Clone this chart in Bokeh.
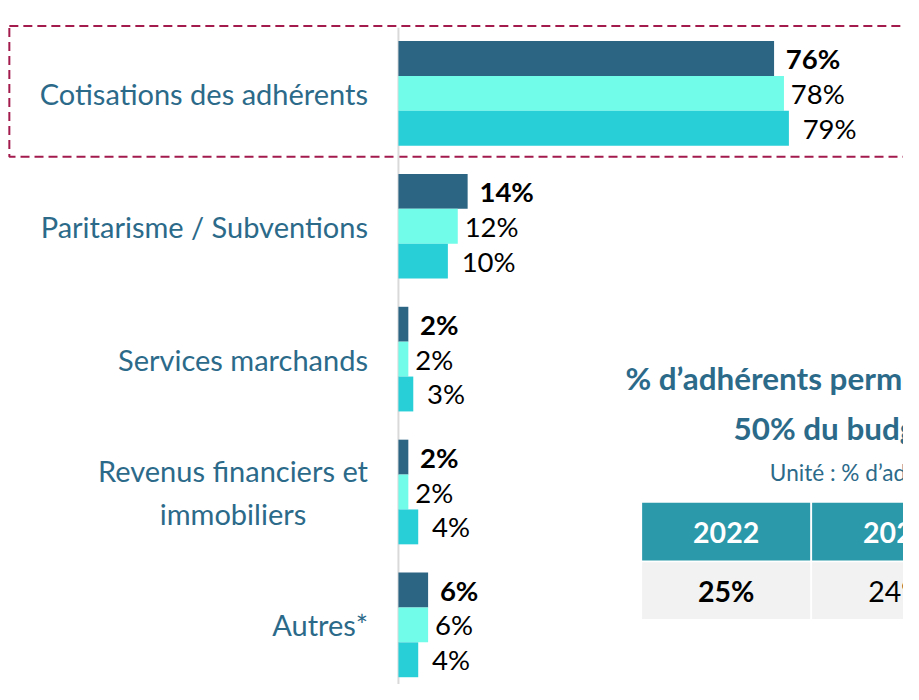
from bokeh.plotting import figure
from bokeh.models import Range1d, ColumnDataSource
from bokeh.core.properties import value
from bokeh.embed import file_html
from bokeh.resources import INLINE

# ---------------- data ----------------
categories = [
    "Cotisations des adhérents",
    "Paritarisme / Subventions",
    "Services marchands",
    "Revenus financiers et\nimmobiliers",
    "Autres*",
]
series_dark = [76, 14, 2, 2, 6]
series_aqua = [78, 12, 2, 2, 6]
series_cyan = [79, 10, 3, 4, 4]

title_lines = ["% d’adhérents permettant de couvrir", "50% du budget"]
subtitle = "Unité : % d’adhérents"
table_years = ["2022", "2023"]
table_values = ["25%", "24%"]

# ---------------- layout / style ----------------
REF_W, REF_H = 919, 700      # design space (reference pixels)
W, H = 903, 684              # actual figure size
S = W / REF_W                # screen-unit scale for fonts / offsets
ZERO_PX = 405.0
K = 5.03                     # design px per percent
CAT0 = 95.0
STEP = 136.0
BAR = 35.7
FONT = "Lato"
C_DARK = "#2c6484"
C_AQUA = "#70fce9"
C_CYAN = "#29cfd7"
C_TEXT = "#2c6a8a"


def sx(px):
    return (px - ZERO_PX) / K


def sy(py):
    return -py


def fs(px):
    return f"{px * S:.1f}px"


p = figure(width=W, height=H, output_backend="svg", toolbar_location=None,
           x_range=Range1d(sx(0), sx(REF_W)),
           y_range=Range1d(sy(REF_H), sy(0)),
           min_border=0, outline_line_color=None)
p.axis.visible = False
p.grid.visible = False
p.background_fill_color = "white"
p.border_fill_color = "white"

# dashed highlight box around first category
p.quad(left=[sx(9)], right=[sx(950)], top=[sy(26)], bottom=[sy(160)],
       fill_color=None, line_color="#a31a4c", line_width=2, line_dash="9 5")

# vertical axis line
p.segment(x0=[0], y0=[sy(28)], x1=[0], y1=[sy(705)], line_color="#d9d9d9", line_width=2)

centers = [sy(CAT0 + STEP * i) for i in range(len(categories))]

series = [(series_dark, C_DARK, "bold", 12, BAR),
          (series_aqua, C_AQUA, "normal", 7, 0.0),
          (series_cyan, C_CYAN, "normal", 14, -BAR)]
for vals, col, weight, gap, off in series:
    ys = [c + off for c in centers]
    src = ColumnDataSource(dict(y=ys, v=vals, lab=[f"{v}%" for v in vals]))
    p.hbar(y="y", left=0, right="v", height=BAR, source=src,
           fill_color=col, line_color=None)
    p.text(x="v", y="y", text="lab", source=src, x_offset=gap * S,
           text_font=value(FONT), text_font_size=fs(28), text_font_style=weight,
           text_color="black", text_align="left", text_baseline="middle")

# category labels (block right-aligned, lines centred)
csrc = ColumnDataSource(dict(x=[sx(374)] * len(categories), y=centers, t=categories))
p.text(x="x", y="y", text="t", source=csrc, anchor=value("center_right"),
       text_font=value(FONT), text_font_size=fs(29.5), text_color=C_TEXT,
       text_align="center", text_baseline="middle", text_line_height=1.25)

# right-hand block: title, subtitle, table
p.text(x=[sx(636), sx(746)], y=[sy(386), sy(437)], text=title_lines,
       text_font=value(FONT), text_font_size=fs(32), text_font_style="bold",
       text_color=C_TEXT, text_align="left", text_baseline="middle")
p.text(x=[sx(783)], y=[sy(483)], text=[subtitle],
       text_font=value(FONT), text_font_size=fs(23),
       text_color=C_TEXT, text_align="left", text_baseline="middle")

col_left = [653 + 173 * i for i in range(len(table_years))]
col_right = [l + 171 for l in col_left]
p.quad(left=[sx(l) for l in col_left], right=[sx(r) for r in col_right],
       top=sy(514), bottom=sy(573), fill_color="#2b99aa", line_color=None)
p.quad(left=[sx(l) for l in col_left], right=[sx(r) for r in col_right],
       top=sy(575), bottom=sy(633), fill_color="#f2f2f2", line_color=None)
mid = [sx((l + r) / 2) for l, r in zip(col_left, col_right)]
p.text(x=mid, y=[sy(544)] * len(mid), text=table_years,
       text_font=value(FONT), text_font_size=fs(29), text_font_style="bold",
       text_color="white", text_align="center", text_baseline="middle")
p.text(x=mid[:1], y=[sy(604)], text=table_values[:1],
       text_font=value(FONT), text_font_size=fs(29), text_font_style="bold",
       text_color="black", text_align="center", text_baseline="middle")
p.text(x=mid[1:], y=[sy(604)] * len(mid[1:]), text=table_values[1:],
       text_font=value(FONT), text_font_size=fs(29),
       text_color="black", text_align="center", text_baseline="middle")

open("out.html", "w").write(file_html(p, INLINE))
